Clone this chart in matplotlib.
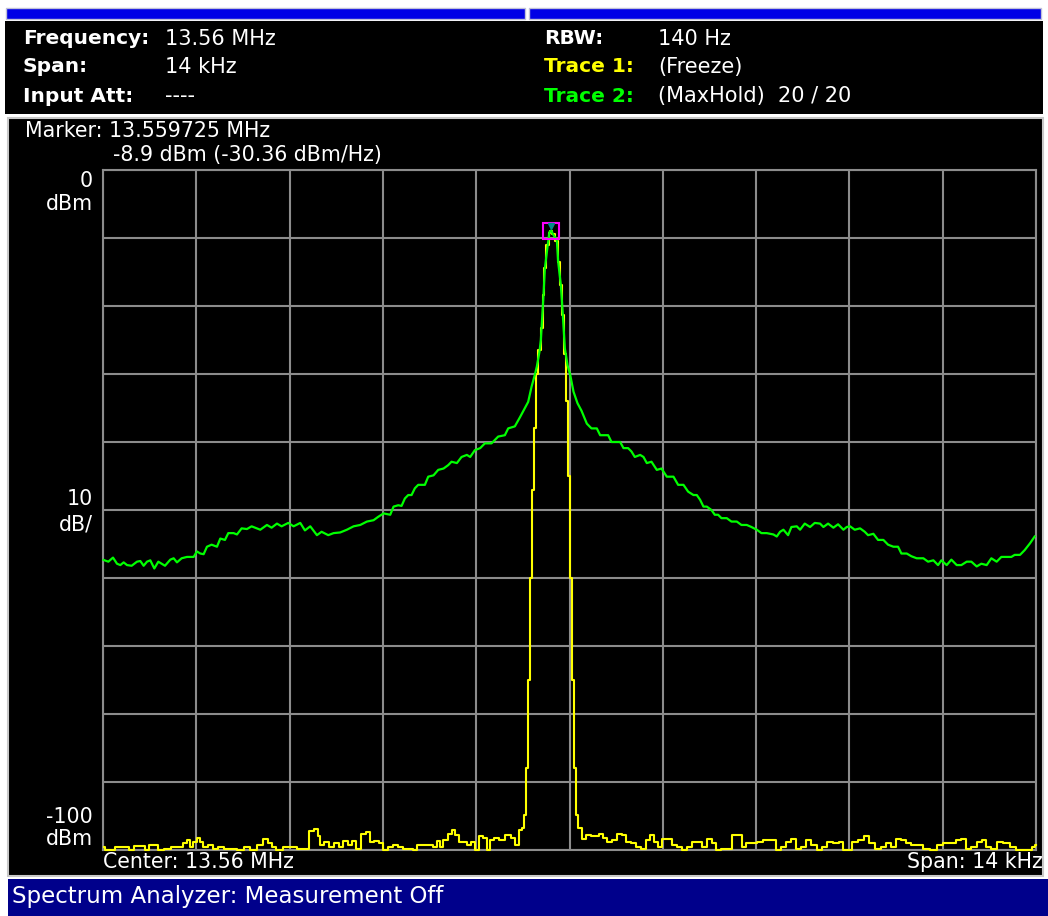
import matplotlib
matplotlib.use("Agg")
import matplotlib.pyplot as plt
from matplotlib.patches import Rectangle

# Trace 2 (MaxHold): offset from centre in kHz, level in dBm
maxhold_khz = [-6.99, -6.92, -6.85, -6.79, -6.74, -6.69, -6.64, -6.57, -6.49, -6.44,
               -6.39, -6.34, -6.29, -6.23, -6.17, -6.12, -6.07, -5.99, -5.94, -5.89,
               -5.82, -5.74, -5.64, -5.59, -5.54, -5.49, -5.44, -5.37, -5.29, -5.24,
               -5.17, -5.12, -5.04, -4.99, -4.92, -4.84, -4.77, -4.69, -4.64, -4.54,
               -4.47, -4.39, -4.32, -4.22, -4.14, -4.04, -3.97, -3.89, -3.79, -3.72,
               -3.62, -3.54, -3.44, -3.34, -3.24, -3.14, -3.04, -2.94, -2.87, -2.79,
               -2.69, -2.64, -2.57, -2.52, -2.47, -2.42, -2.37, -2.32, -2.27, -2.17,
               -2.12, -2.04, -1.97, -1.89, -1.82, -1.77, -1.69, -1.62, -1.54, -1.49,
               -1.42, -1.34, -1.27, -1.17, -1.07, -0.97, -0.92, -0.82, -0.74, -0.67,
               -0.62, -0.57, -0.52, -0.49, -0.45, -0.43, -0.42, -0.39, -0.37, -0.33,
               -0.30, -0.275, -0.25, -0.19, -0.17, -0.13, -0.10, -0.07, -0.03, 0.01,
               0.06, 0.12, 0.18, 0.26, 0.33, 0.41, 0.46, 0.58, 0.63, 0.76,
               0.81, 0.88, 0.93, 0.98, 1.06, 1.11, 1.16, 1.23, 1.31, 1.38,
               1.46, 1.56, 1.63, 1.71, 1.78, 1.86, 1.91, 1.96, 2.01, 2.06,
               2.13, 2.18, 2.23, 2.28, 2.36, 2.43, 2.51, 2.58, 2.66, 2.73,
               2.81, 2.88, 2.96, 3.06, 3.11, 3.16, 3.21, 3.28, 3.33, 3.41,
               3.46, 3.53, 3.61, 3.68, 3.76, 3.81, 3.88, 3.96, 4.03, 4.11,
               4.16, 4.21, 4.28, 4.36, 4.43, 4.48, 4.56, 4.63, 4.71, 4.78,
               4.86, 4.93, 4.98, 5.06, 5.13, 5.21, 5.31, 5.38, 5.46, 5.53,
               5.58, 5.66, 5.73, 5.81, 5.88, 5.96, 6.03, 6.11, 6.18, 6.26,
               6.33, 6.41, 6.48, 6.56, 6.63, 6.68, 6.76, 6.83, 6.91, 6.98]
maxhold_dbm = [-57.35, -57.6, -57.0, -57.9, -58.1, -57.7, -58.1, -58.2, -57.6, -57.5,
               -58.2, -57.6, -57.4, -58.6, -57.6, -57.9, -58.2, -57.3, -57.1, -57.7,
               -57.1, -56.9, -56.9, -56.1, -56.4, -56.5, -55.4, -55.1, -55.4, -54.2,
               -54.4, -53.4, -53.4, -53.6, -52.7, -52.8, -52.4, -52.7, -52.9, -52.2,
               -52.6, -52.0, -52.4, -51.9, -52.4, -51.9, -53.0, -52.4, -53.7, -53.2,
               -53.7, -53.4, -53.3, -52.9, -52.4, -52.2, -51.7, -51.5, -51.0, -50.5,
               -50.7, -49.5, -49.3, -49.4, -48.3, -47.8, -47.8, -46.8, -46.3, -46.3,
               -45.1, -44.9, -44.1, -43.9, -43.4, -42.9, -43.1, -42.2, -41.9, -42.2,
               -41.2, -40.9, -40.2, -40.2, -39.2, -39.0, -38.0, -37.7, -36.3, -35.0,
               -34.1, -31.9, -30.1, -28.9, -26.7, -25.0, -23.3, -18.4, -14.5, -11.3,
               -9.1, -8.9, -9.4, -10.3, -13.5, -16.9, -21.3, -26.2, -28.7, -30.1,
               -32.6, -34.3, -35.4, -37.3, -38.0, -38.0, -39.0, -39.0, -40.0, -40.0,
               -40.9, -40.9, -41.4, -42.2, -41.9, -42.2, -43.1, -42.9, -44.1, -43.9,
               -45.1, -45.1, -46.3, -46.3, -47.3, -47.8, -47.8, -48.5, -49.5, -49.5,
               -50.0, -50.7, -50.7, -51.2, -51.2, -51.7, -51.7, -52.2, -52.2, -52.5,
               -52.9, -53.4, -53.4, -53.6, -53.9, -53.2, -52.9, -53.7, -52.5, -52.4,
               -52.9, -52.0, -52.5, -51.9, -52.0, -52.5, -52.0, -52.6, -52.1, -52.9,
               -52.5, -52.4, -52.9, -52.7, -53.2, -53.7, -53.5, -54.4, -54.4, -55.1,
               -55.4, -55.4, -56.4, -56.4, -56.8, -57.1, -57.1, -57.6, -57.4, -58.1,
               -57.4, -58.1, -57.3, -58.1, -58.1, -57.6, -57.6, -58.3, -57.9, -58.1,
               -57.1, -57.6, -56.9, -56.9, -56.9, -56.6, -56.6, -55.9, -54.9, -53.9]

# Trace 1 (Freeze)
freeze_khz = [-6.99, -6.94, -6.69, -6.64, -6.59, -6.47, -6.39, -6.34, -6.27, -6.19,
              -6.15, -6.02, -5.94, -5.84, -5.77, -5.72, -5.67, -5.62, -5.57, -5.52,
              -5.47, -5.39, -5.32, -5.24, -5.14, -5.04, -4.94, -4.84, -4.74, -4.64,
              -4.57, -4.49, -4.44, -4.37, -4.24, -4.14, -4.04, -3.94, -3.87, -3.79,
              -3.77, -3.72, -3.64, -3.57, -3.49, -3.42, -3.37, -3.29, -3.24, -3.17,
              -3.09, -3.02, -2.97, -2.89, -2.82, -2.77, -2.69, -2.62, -2.54, -2.47,
              -2.39, -2.32, -2.27, -2.19, -2.09, -2.02, -1.97, -1.92, -1.87, -1.79,
              -1.74, -1.69, -1.64, -1.57, -1.52, -1.44, -1.39, -1.34, -1.27, -1.22,
              -1.17, -1.09, -1.02, -0.92, -0.84, -0.79, -0.74, -0.69, -0.67, -0.64,
              -0.61, -0.58, -0.55, -0.52, -0.49, -0.45, -0.42, -0.39, -0.37, -0.33,
              -0.30, -0.275, -0.25, -0.19, -0.17, -0.13, -0.10, -0.07, -0.03, -0.01,
              0.02, 0.05, 0.08, 0.11, 0.16, 0.23, 0.28, 0.36, 0.41, 0.48,
              0.53, 0.61, 0.68, 0.76, 0.81, 0.88, 0.96, 1.03, 1.11, 1.18,
              1.23, 1.31, 1.36, 1.43, 1.51, 1.58, 1.66, 1.73, 1.81, 1.88,
              1.96, 2.03, 2.11, 2.18, 2.23, 2.31, 2.41, 2.48, 2.56, 2.61,
              2.68, 2.78, 2.86, 2.96, 3.06, 3.13, 3.21, 3.28, 3.36, 3.43,
              3.51, 3.58, 3.68, 3.76, 3.83, 3.91, 4.01, 4.08, 4.13, 4.21,
              4.28, 4.38, 4.46, 4.53, 4.63, 4.71, 4.78, 4.86, 4.93, 5.01,
              5.08, 5.16, 5.26, 5.36, 5.46, 5.56, 5.66, 5.76, 5.83, 5.91,
              5.98, 6.06, 6.16, 6.23, 6.28, 6.36, 6.46, 6.56, 6.66, 6.73,
              6.91, 6.96, 7.00]
freeze_dbm = [-99.5, -100, -99.5, -99.5, -100, -99.4, -99.4, -100, -99.2, -99.2,
              -100, -99.8, -99.6, -99.6, -99.0, -98.5, -99.5, -98.8, -98.2, -98.8,
              -99.5, -99.3, -99.8, -99.5, -99.8, -99.8, -100, -99.6, -100, -99.3,
              -98.4, -99.0, -99.5, -100, -99.5, -99.5, -99.8, -99.8, -97.2, -96.9,
              -98.0, -99.2, -98.8, -99.5, -99.0, -99.5, -98.7, -99.3, -98.7, -99.8,
              -97.6, -97.3, -98.8, -98.7, -99.0, -100, -99.5, -99.2, -99.5, -99.8,
              -99.8, -100, -99.3, -99.2, -99.2, -99.5, -98.7, -99.5, -98.5, -97.6,
              -97.1, -97.8, -98.8, -98.8, -99.3, -98.8, -100, -98.0, -98.3, -100,
              -98.5, -98.3, -98.5, -97.8, -98.3, -99.3, -97.1, -96.8, -94.9, -88,
              -75, -60, -47, -38, -30, -26.5, -23.3, -18.4, -14.4, -11.0,
              -9.2, -8.9, -9.4, -10.5, -13.5, -16.9, -21.3, -27, -34, -45,
              -60, -75, -88, -94.9, -96.8, -98.4, -97.8, -98.0, -98.0, -97.6,
              -98.3, -98.8, -98.5, -97.6, -97.8, -98.8, -99.0, -99.5, -99.8, -98.5,
              -97.8, -98.8, -99.5, -98.4, -98.4, -99.3, -99.5, -100, -99.5, -98.8,
              -98.8, -99.5, -98.4, -99.0, -100, -99.8, -99.8, -97.8, -97.8, -99.5,
              -99.0, -99.0, -98.8, -98.5, -98.5, -100, -99.5, -98.8, -98.4, -99.8,
              -99.5, -98.5, -99.3, -100, -99.5, -98.8, -99.0, -98.8, -100, -100,
              -98.8, -98.5, -98.0, -99.0, -99.8, -99.5, -99.0, -99.5, -98.4, -98.5,
              -99.0, -99.3, -99.3, -99.8, -100, -99.3, -99.0, -99.0, -98.5, -98.4,
              -99.8, -99.5, -98.8, -98.5, -99.5, -99.8, -98.8, -99.0, -99.5, -100,
              -100, -99.5, -99.3]

span_khz = 14
ref_dbm = 0
db_per_div = 10
marker_khz = -0.275
marker_dbm = -8.9

header_left = [("Frequency:", "13.56 MHz"), ("Span:", "14 kHz"), ("Input Att:", "----")]
header_right = [("RBW:", "140 Hz"), ("Trace 1:", "(Freeze)"), ("Trace 2:", "(MaxHold)  20 / 20")]

GREEN = "#00ff00"
YELLOW = "#ffff00"
GRID = "#8c8c8c"

plt.rcParams["font.family"] = ["DejaVu Sans"]

W, H = 1048, 916
fig = plt.figure(figsize=(W / 100, H / 100), dpi=100, facecolor="white")

# background panels drawn in pixel coordinates
bg = fig.add_axes([0, 0, 1, 1])
bg.set_xlim(0, W)
bg.set_ylim(H, 0)
bg.axis("off")

bg.add_patch(Rectangle((6, 8), 519, 11, facecolor="#0000e6", edgecolor="#c0c0d8", lw=1))
bg.add_patch(Rectangle((529, 8), 512, 11, facecolor="#0000e6", edgecolor="#c0c0d8", lw=1))
bg.add_patch(Rectangle((5, 21), 1038, 93, facecolor="black", edgecolor="none"))
bg.add_patch(Rectangle((8, 118), 1035, 758, facecolor="black", edgecolor="#c8c8c8", lw=1.5))
bg.add_patch(Rectangle((8, 879), 1040, 37, facecolor="#00008b", edgecolor="none"))

hdr_y = [39, 67, 96]
for (lab, val), y in zip(header_left, hdr_y):
    bg.text(23, y, lab, color="white", fontsize=14.5, fontweight="bold", va="center")
    bg.text(165, y, val, color="white", fontsize=15, va="center")
for (lab, val), y, c in zip(header_right, hdr_y, ["white", YELLOW, GREEN]):
    bg.text(544, y, lab, color=c, fontsize=14.5, fontweight="bold", va="center")
    bg.text(658, y, val, color="white", fontsize=15, va="center")

bg.text(25, 131, "Marker: 13.559725 MHz", color="white", fontsize=14.8, va="center")
bg.text(113, 155, "-8.9 dBm (-30.36 dBm/Hz)", color="white", fontsize=14.8, va="center")

for txt, y in [("0", 181), ("dBm", 204), ("10", 499), ("dB/", 524), ("-100", 817), ("dBm", 839)]:
    bg.text(93, y, txt, color="white", fontsize=14.8, ha="right", va="center")

bg.text(103, 862, "Center: 13.56 MHz", color="white", fontsize=14.8, va="center")
bg.text(1043, 862, "Span: 14 kHz", color="white", fontsize=14.8, ha="right", va="center")
bg.text(12, 897, "Spectrum Analyzer: Measurement Off", color="white", fontsize=16.5, va="center")

# trace area
ax = fig.add_axes([103 / W, 1 - 850 / H, 933 / W, 680 / H])
ax.set_facecolor("black")
ax.set_xlim(-span_khz / 2, span_khz / 2)
ax.set_ylim(ref_dbm - 10 * db_per_div, ref_dbm)
ax.set_xticks([-span_khz / 2 + i * span_khz / 10 for i in range(11)])
ax.set_yticks([ref_dbm - i * db_per_div for i in range(11)])
ax.grid(True, color=GRID, lw=1.5)
ax.tick_params(length=0, labelbottom=False, labelleft=False)
for s in ax.spines.values():
    s.set_color(GRID)
    s.set_linewidth(1.5)

ax.plot(freeze_khz, freeze_dbm, color=YELLOW, lw=1.5, drawstyle="steps-mid",
        clip_on=False, zorder=3)
ax.plot(maxhold_khz, maxhold_dbm, color=GREEN, lw=1.6, clip_on=False, zorder=4)
ax.plot([marker_khz], [marker_dbm], marker="s", ms=11, mfc="none", mec="#ff00ff",
        mew=1.5, zorder=5)
ax.plot([marker_khz], [marker_dbm + 0.6], marker="v", ms=4, color="#008b8b", zorder=6)

fig.savefig("out.png", dpi=100, facecolor="white")
